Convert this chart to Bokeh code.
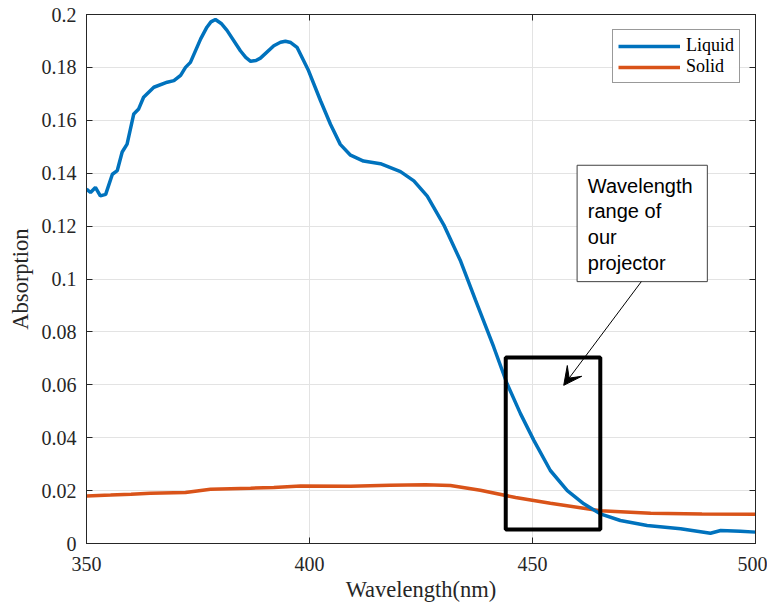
from bokeh.plotting import figure
from bokeh.models import (Range1d, LinearAxis, FixedTicker, BoxAnnotation, Arrow,
                          VeeHead, Legend, LegendItem, ColumnDataSource)
from bokeh.core.properties import value
from bokeh.embed import file_html
from bokeh.resources import INLINE

# ---- data ----
liquid_x = [350, 350.9, 352, 353.1, 354.3, 355.8, 356.9, 358, 359.1, 360.6, 361.7, 362.8,
            365.1, 368.1, 369.6, 371.1, 372.2, 373.3, 375.6, 377, 377.9, 378.9, 380.2, 381.5,
            384.5, 385.7, 386.8, 388, 389, 392, 393.5, 394.6, 395.8, 397.2, 399.8, 402.5,
            404.7, 406.9, 409.2, 412.1, 415.9, 420.4, 423.4, 426.4, 430.1, 433.9, 437.2,
            441.3, 444.3, 447.3, 450.3, 454, 457.8, 461.5, 465.2, 469.7, 475.7, 483.2,
            489.9, 492.2, 496.6, 500]
liquid_y = [0.134, 0.1327, 0.1346, 0.1314, 0.132, 0.1396, 0.141, 0.148, 0.151, 0.1624, 0.1643,
            0.1687, 0.1725, 0.1744, 0.175, 0.177, 0.180, 0.1819, 0.1908, 0.1952, 0.1972,
            0.1981, 0.1966, 0.194, 0.1863, 0.1838, 0.1823, 0.1826, 0.1835, 0.1882, 0.1895,
            0.1899, 0.1894, 0.1876, 0.1787, 0.1673, 0.1585, 0.1509, 0.1468, 0.1446, 0.1436,
            0.1406, 0.1371, 0.1313, 0.1205, 0.1067, 0.0921, 0.0743, 0.0604, 0.0491, 0.039,
            0.0276, 0.020, 0.015, 0.0112, 0.0087, 0.0068, 0.0056, 0.0039, 0.0049, 0.0046,
            0.0043]

solid_x = [350, 355.4, 360, 364.3, 372.2, 377.8, 386.8, 392, 398, 409.2, 418, 426, 431.6,
           438.3, 446.2, 454, 465.2, 476.5, 488, 500]
solid_y = [0.018, 0.0183, 0.0186, 0.019, 0.0193, 0.0205, 0.0209, 0.0212, 0.0217, 0.0216,
           0.0220, 0.0222, 0.0219, 0.0201, 0.0174, 0.0152, 0.0124, 0.0114, 0.0112, 0.0111]

x_ticks = [350, 400, 450, 500]
y_ticks = [0, 0.02, 0.04, 0.06, 0.08, 0.1, 0.12, 0.14, 0.16, 0.18, 0.2]
y_tick_labels = ["0", "0.02", "0.04", "0.06", "0.08", "0.1", "0.12", "0.14", "0.16", "0.18", "0.2"]

# annotation values (data coordinates)
range_box = dict(left=444.0, right=465.2, bottom=0.0053, top=0.0703)
note_box = dict(left=460.0, right=489.2, bottom=0.099, top=0.143)
note_text = "Wavelength\nrange of\nour\nprojector"
note_pos = (462.4, 0.1395)
arrow_start = (474.4, 0.0990)
arrow_end = (457.0, 0.0598)

SERIF = "Liberation Serif"
SANS = "Liberation Sans"
BLUE = "#0072BD"
ORANGE = "#D95319"
AX = "#262626"

p = figure(frame_width=669, frame_height=529, output_backend="svg", toolbar_location=None,
           x_range=Range1d(350, 500), y_range=Range1d(0, 0.2),
           min_border_left=86, min_border_right=12, min_border_top=14, min_border_bottom=40,
           x_axis_label="Wavelength(nm)", y_axis_label="Absorption")
p.outline_line_color = AX
p.outline_line_width = 1

for ax in (p.xaxis[0], p.yaxis[0]):
    ax.axis_line_color = AX
    ax.major_tick_line_color = AX
    ax.major_tick_in = 6
    ax.major_tick_out = 0
    ax.minor_tick_line_color = None
    ax.major_label_text_font = SERIF
    ax.major_label_text_font_size = "20px"
    ax.major_label_text_color = AX
    ax.axis_label_text_font = SERIF
    ax.axis_label_text_font_size = "22.5px"
    ax.axis_label_text_font_style = "normal"
    ax.axis_label_text_color = AX

p.xaxis[0].ticker = FixedTicker(ticks=x_ticks)
p.yaxis[0].ticker = FixedTicker(ticks=y_ticks)
p.yaxis[0].major_label_overrides = {t: l for t, l in zip(y_ticks, y_tick_labels)}
p.xaxis[0].major_label_standoff = 13
p.xaxis[0].axis_label_standoff = 3
p.yaxis[0].major_label_standoff = 10
p.yaxis[0].axis_label_standoff = 6

# box-style top and right axes with inward ticks, no labels
top_ax = LinearAxis(ticker=FixedTicker(ticks=x_ticks),
                    major_label_overrides={t: "" for t in x_ticks})
right_ax = LinearAxis(ticker=FixedTicker(ticks=y_ticks),
                      major_label_overrides={t: "" for t in y_ticks})
for ax in (top_ax, right_ax):
    ax.axis_line_color = AX
    ax.major_tick_line_color = AX
    ax.major_tick_in = 6
    ax.major_tick_out = 0
    ax.minor_tick_line_color = None
    ax.major_label_text_font_size = "0px"
    ax.major_label_standoff = 0
p.add_layout(top_ax, "above")
p.add_layout(right_ax, "right")

p.xgrid.ticker = FixedTicker(ticks=x_ticks)
p.ygrid.ticker = FixedTicker(ticks=y_ticks)
p.xgrid.grid_line_color = "#e3e3e3"
p.ygrid.grid_line_color = "#e3e3e3"

src_l = ColumnDataSource(dict(x=liquid_x, y=liquid_y))
src_s = ColumnDataSource(dict(x=solid_x, y=solid_y))
r_s = p.line("x", "y", source=src_s, line_color=ORANGE, line_width=3.5)
r_l = p.line("x", "y", source=src_l, line_color=BLUE, line_width=3.5)

p.add_layout(BoxAnnotation(fill_color=None, line_color="black", line_alpha=1,
                           line_width=4, **range_box))
p.add_layout(BoxAnnotation(fill_color="white", fill_alpha=1, line_color="#404040",
                           line_alpha=1, line_width=1, level="underlay", **note_box))
p.text(x=[note_pos[0]], y=[note_pos[1]], text=[note_text], text_font=value(SANS),
       text_font_size="20px", text_baseline="top", text_align="left",
       text_line_height=1.18, text_color="black")
p.add_layout(Arrow(x_start=arrow_start[0], y_start=arrow_start[1],
                   x_end=arrow_end[0], y_end=arrow_end[1], line_width=1, line_color="black",
                   end=VeeHead(size=18, fill_color="black", line_color="black")))

legend = Legend(items=[LegendItem(label="Liquid", renderers=[r_l]),
                       LegendItem(label="Solid", renderers=[r_s])],
                location="top_right")
legend.label_text_font = SERIF
legend.label_text_font_size = "18px"
legend.label_text_color = "black"
legend.glyph_width = 62
legend.glyph_height = 20
legend.label_height = 20
legend.spacing = 0
legend.padding = 5
legend.margin = 15
legend.label_standoff = 6
legend.border_line_color = "#333333"
legend.border_line_width = 1
p.add_layout(legend)

open("out.html", "w").write(file_html(p, INLINE))
